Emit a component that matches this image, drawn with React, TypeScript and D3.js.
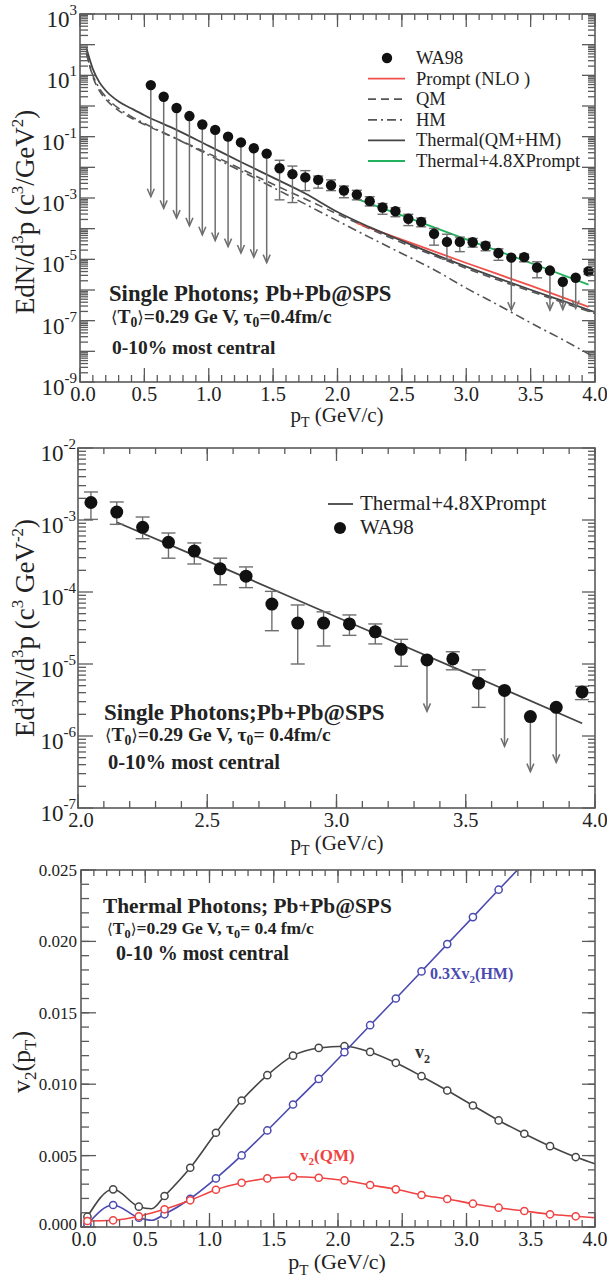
import React from 'react';
import * as d3 from 'd3';

const FONT = '"Liberation Serif", "Times New Roman", "DejaVu Serif", serif';
const AXIS = '#5a5a5a';
const BAR = '#6e6e6e';

// WA98 single photons, Pb+Pb 0-10% central
const wa98Pt = [0.55, 0.65, 0.75, 0.85, 0.95, 1.05, 1.15, 1.25, 1.35, 1.45, 1.55, 1.65, 1.75, 1.85, 1.95, 2.05, 2.15, 2.25, 2.35, 2.45, 2.55, 2.65, 2.75, 2.85, 2.95, 3.05, 3.15, 3.25, 3.35, 3.45, 3.55, 3.65, 3.75, 3.85, 3.95];
const wa98Val = [4.8, 2.0, 0.86, 0.47, 0.25, 0.166, 0.1, 0.065, 0.042, 0.028, 9.3e-3, 6.0e-3, 4.7e-3, 3.9e-3, 2.6e-3, 1.75e-3, 1.29e-3, 7.9e-4, 4.9e-4, 3.7e-4, 2.1e-4, 1.66e-4, 6.8e-5, 3.7e-5, 3.7e-5, 3.6e-5, 2.8e-5, 1.6e-5, 1.14e-5, 1.18e-5, 5.4e-6, 4.3e-6, 1.86e-6, 2.5e-6, 4.1e-6];
const wa98ErrHi = [null, null, null, null, null, null, null, null, null, null, 0.017, 0.011, 7.8e-3, 5.2e-3, 3.9e-3, 2.45e-3, 1.78e-3, 1.1e-3, 6.6e-4, 4.8e-4, 2.95e-4, 2.23e-4, 1.02e-4, 6.6e-5, 5.3e-5, 4.8e-5, 3.6e-5, 2.2e-5, null, 1.48e-5, 8.3e-6, null, null, null, 4.9e-6];
const wa98ErrLo = [null, null, null, null, null, null, null, null, null, null, 8.7e-4, 7.1e-4, 1.74e-3, 2.1e-3, 1.74e-3, 1.02e-3, 8.7e-4, 5.5e-4, 2.95e-4, 2.45e-4, 1.26e-4, 1.15e-4, 2.9e-5, 1.0e-5, 1.78e-5, 2.5e-5, 1.9e-5, 9.3e-6, null, 8.3e-6, 2.5e-6, null, null, null, 3.2e-6];
// upper limits: where the arrow ends in each panel
const limitEndTop = [1.1e-3, 4.6e-4, 2.2e-4, 1.23e-4, 6.3e-5, 4.1e-5, 2.6e-5, 1.6e-5, 1.17e-5, 7.8e-6, null, null, null, null, null, null, null, null, null, null, null, null, null, null, null, null, null, null, 2.2e-7, null, null, 2.2e-7, 2.3e-7, 2.5e-7, null];
const limitEndMid = [null, null, null, null, null, null, null, null, null, null, null, null, null, null, null, null, null, null, null, null, null, null, null, null, null, null, null, null, 2.2e-6, null, null, 7.2e-7, 3.2e-7, 4.3e-7, null];

// theory spectra
const thPt = [0.05, 0.1, 0.15, 0.2, 0.3, 0.4, 0.5, 0.75, 1.0, 1.25, 1.5, 1.75, 2.0, 2.25, 2.5, 2.75, 3.0, 3.25, 3.5, 3.75, 4.0];
const thermal = [76, 16, 6.0, 3.2, 1.4, 0.83, 0.5, 0.166, 0.05, 0.015, 4.6e-3, 1.4e-3, 3.5e-4, 1.12e-4, 4.0e-5, 1.48e-5, 5.8e-6, 2.4e-6, 1.02e-6, 4.4e-7, 1.9e-7];
const qmRate = [56, 8.9, 3.2, 1.66, 0.71, 0.4, 0.25, 0.085, 0.028, 8.9e-3, 2.8e-3, 9.3e-4, 3.0e-4, 1.0e-4, 3.5e-5, 1.32e-5, 5.1e-6, 2.1e-6, 9.1e-7, 3.9e-7, 1.7e-7];
const hmRate = [50, 10, 3.8, 2.0, 0.83, 0.45, 0.27, 0.085, 0.025, 7.6e-3, 2.2e-3, 6.3e-4, 1.8e-4, 5.2e-5, 1.55e-5, 4.6e-6, 1.15e-6, 3.2e-7, 8.5e-8, 2.4e-8, 6.3e-9];
const promptPt = [2.15, 2.5, 3.0, 3.5, 3.95];
const promptNLO = [1.5e-4, 4.4e-5, 7.6e-6, 1.38e-6, 2.8e-7];
const thermalPlusPrompt = [9.3e-4, 2.7e-4, 4.5e-5, 7.6e-6, 1.5e-6];

// elliptic flow
const v2Pt = [0.05, 0.25, 0.45, 0.55, 0.65, 0.85, 1.05, 1.25, 1.45, 1.65, 1.85, 2.05, 2.25, 2.45, 2.65, 2.85, 3.05, 3.25, 3.45, 3.65, 3.85, 4.0];
const v2Total = [0.00072, 0.00264, 0.00142, 0.00128, 0.00217, 0.00415, 0.0066, 0.00886, 0.01063, 0.0120, 0.01254, 0.01266, 0.01226, 0.0115, 0.01056, 0.00956, 0.00851, 0.00746, 0.00653, 0.00566, 0.0049, 0.00443];
const v2QM = [0.00042, 0.00047, 0.00075, 0.00098, 0.00124, 0.00187, 0.00261, 0.0031, 0.0034, 0.00352, 0.00345, 0.00326, 0.00294, 0.00264, 0.00224, 0.00196, 0.00163, 0.00135, 0.00112, 0.00089, 0.00075, 0.00065];
const v2HMPt = [0.05, 0.25, 0.45, 0.55, 0.65, 0.85, 1.05, 1.25, 1.45, 1.65, 1.85, 2.05, 2.25, 2.45, 2.65, 2.85, 3.05, 3.25, 3.45];
const v2HM03 = [0.00019, 0.00154, 0.00065, 0.00047, 0.00089, 0.00198, 0.0034, 0.00501, 0.00676, 0.00858, 0.01037, 0.01224, 0.01413, 0.016, 0.0179, 0.01981, 0.0217, 0.02362, 0.0255];
const v2MarkPt = [0.05, 0.25, 0.45, 0.65, 0.85, 1.05, 1.25, 1.45, 1.65, 1.85, 2.05, 2.25, 2.45, 2.65, 2.85, 3.05, 3.25, 3.45, 3.65, 3.85];

const P1 = { left: 80, right: 595, top: 14, bottom: 382 };
const P2 = { left: 78, right: 595, top: 448, bottom: 808 };
const P3 = { left: 81, right: 595, top: 870, bottom: 1227 };

type Panel = typeof P1;

const logTicks = (lo: number, hi: number) => {
  const major = d3.range(lo, hi + 1).map((e) => Math.pow(10, e));
  const minor: number[] = [];
  for (let e = lo; e < hi; e++) for (let m = 2; m <= 9; m++) minor.push(m * Math.pow(10, e));
  return { major, minor };
};

const Frame = ({ p }: { p: Panel }) => (
  <rect x={p.left} y={p.top} width={p.right - p.left} height={p.bottom - p.top} fill="none" stroke={AXIS} strokeWidth={1.6} />
);

const XTicks = ({ x, p, major, minor }: any) => (
  <g stroke={AXIS} strokeWidth={1.3}>
    {minor.map((v: number) => (
      <g key={'m' + v}>
        <line x1={x(v)} x2={x(v)} y1={p.bottom} y2={p.bottom - 7} />
        <line x1={x(v)} x2={x(v)} y1={p.top} y2={p.top + 6} />
      </g>
    ))}
    {major.map((v: number) => (
      <g key={'M' + v}>
        <line x1={x(v)} x2={x(v)} y1={p.bottom} y2={p.bottom - 14} />
        <line x1={x(v)} x2={x(v)} y1={p.top} y2={p.top + 13} />
      </g>
    ))}
  </g>
);

const YTicks = ({ y, p, major, minor }: any) => (
  <g stroke={AXIS} strokeWidth={1.3}>
    {minor.map((v: number) => (
      <g key={'m' + v}>
        <line x1={p.left} x2={p.left + 8} y1={y(v)} y2={y(v)} />
        <line x1={p.right} x2={p.right - 7} y1={y(v)} y2={y(v)} />
      </g>
    ))}
    {major.map((v: number) => (
      <g key={'M' + v}>
        <line x1={p.left} x2={p.left + 15} y1={y(v)} y2={y(v)} />
        <line x1={p.right} x2={p.right - 13} y1={y(v)} y2={y(v)} />
      </g>
    ))}
  </g>
);

const XLabels = ({ x, p, values, dy, size }: any) => (
  <g fontSize={size} textAnchor="middle" fill="#222">
    {values.map((v: number) => (
      <text key={v} x={x(v) + (v === values[0] ? 3 : 0)} y={p.bottom + dy}>{d3.format('.1f')(v)}</text>
    ))}
  </g>
);

const PowLabels = ({ y, values, xEnd, size }: any) => (
  <g fontSize={size} textAnchor="end" fill="#222">
    {values.map((v: number) => {
      const e = Math.round(Math.log10(v));
      return (
        <text key={v} x={xEnd} y={y(v) + 13}>
          10<tspan dy={-12} fontSize={15}>{e}</tspan>
        </text>
      );
    })}
  </g>
);

const Arrow = ({ x, y0, y1 }: { x: number; y0: number; y1: number }) => (
  <g stroke={BAR} strokeWidth={1.5} fill="none">
    <line x1={x} x2={x} y1={y0} y2={y1} />
    <path d={`M${x - 3.5},${y1 - 8} L${x},${y1} L${x + 3.5},${y1 - 8}`} />
  </g>
);

const DataPoints = ({ x, y, idx, limitEnd, r, cap }: any) => (
  <g>
    {idx.map((i: number) => {
      const cx = x(wa98Pt[i]);
      const cy = y(wa98Val[i]);
      if (limitEnd[i] != null) return <Arrow key={i} x={cx} y0={cy} y1={y(limitEnd[i])} />;
      if (wa98ErrHi[i] == null) return null;
      const yh = y(wa98ErrHi[i]);
      const yl = y(wa98ErrLo[i]);
      return (
        <g key={i} stroke={BAR} strokeWidth={1.4}>
          <line x1={cx} x2={cx} y1={yh} y2={yl} />
          <line x1={cx - cap} x2={cx + cap} y1={yh} y2={yh} />
          <line x1={cx - cap} x2={cx + cap} y1={yl} y2={yl} />
        </g>
      );
    })}
    {idx.map((i: number) => (
      <circle key={'c' + i} cx={x(wa98Pt[i])} cy={y(wa98Val[i])} r={r} fill="#111" />
    ))}
  </g>
);

const T0Line = ({ x, y, size, tail }: any) => (
  <text x={x} y={y} fontSize={size} fontWeight="bold" fill="#222">
    <tspan fontFamily='"DejaVu Serif", serif' fontWeight="normal" fontSize={size * 0.85}>⟨</tspan>T
    <tspan dy={4} fontSize={size * 0.7}>0</tspan>
    <tspan dy={-4} fontFamily='"DejaVu Serif", serif' fontWeight="normal" fontSize={size * 0.85}>⟩</tspan>=0.29 Ge V,  τ
    <tspan dy={4} fontSize={size * 0.7}>0</tspan>
    <tspan dy={-4}>{tail}</tspan>
  </text>
);

export default function App() {
  const x1 = d3.scaleLinear().domain([0, 4]).range([P1.left, P1.right]);
  const y1 = d3.scaleLog().domain([1e-9, 1e3]).range([P1.bottom, P1.top]);
  const x2 = d3.scaleLinear().domain([2, 4]).range([P2.left, P2.right]);
  const y2 = d3.scaleLog().domain([1e-7, 1e-2]).range([P2.bottom, P2.top]);
  const x3 = d3.scaleLinear().domain([0, 4]).range([P3.left, P3.right]);
  const y3 = d3.scaleLinear().domain([0, 0.025]).range([P3.bottom, P3.top]);

  const lt1 = logTicks(-9, 3);
  const lt2 = logTicks(-7, -2);

  const line1 = (xs: number[], ys: number[]) =>
    d3.line<number>().x((_, i) => x1(xs[i])).y((d) => y1(d)).curve(d3.curveMonotoneX)(ys) || '';
  const line2 = (xs: number[], ys: number[]) =>
    d3.line<number>().x((_, i) => x2(xs[i])).y((d) => y2(d)).curve(d3.curveMonotoneX)(ys) || '';
  const line3 = (xs: number[], ys: number[]) =>
    d3.line<number>().x((_, i) => x3(xs[i])).y((d) => y3(d)).curve(d3.curveMonotoneX)(ys) || '';

  const allIdx = wa98Pt.map((_, i) => i);
  const midIdx = allIdx.filter((i) => wa98Pt[i] >= 2.0);

  const v2Series = [
    { xs: v2Pt, ys: v2Total, color: '#454545' },
    { xs: v2HMPt, ys: v2HM03, color: '#4a4ab0' },
    { xs: v2Pt, ys: v2QM, color: '#f04242' },
  ];

  const legendTop = [
    { label: 'WA98', kind: 'dot' },
    { label: 'Prompt (NLO )', kind: 'line', color: '#f0504a', dash: '' },
    { label: 'QM', kind: 'line', color: '#555', dash: '8,5' },
    { label: 'HM', kind: 'line', color: '#555', dash: '9,4,2,4' },
    { label: 'Thermal(QM+HM)', kind: 'line', color: '#444', dash: '' },
    { label: 'Thermal+4.8XPrompt', kind: 'line', color: '#20b25c', dash: '' },
  ];

  return (
    <svg width={607} height={1281} style={{ position: 'absolute', left: 0, top: 0, background: '#fff' }} fontFamily={FONT}>
      <defs>
        {[P1, P2, P3].map((p, k) => (
          <clipPath id={'clip' + k} key={k}>
            <rect x={p.left} y={p.top} width={p.right - p.left} height={p.bottom - p.top} />
          </clipPath>
        ))}
      </defs>

      {/* ---------- panel 1 ---------- */}
      <g clipPath="url(#clip0)" fill="none" strokeWidth={1.8}>
        <path d={line1(thPt, hmRate)} stroke="#555" strokeDasharray="9,4,2,4" strokeWidth={1.6} />
        <path d={line1(thPt, qmRate)} stroke="#555" strokeDasharray="8,5" strokeWidth={1.6} />
        <path d={line1(promptPt, promptNLO)} stroke="#f0504a" />
        <path d={line1(thPt, thermal)} stroke="#444" />
        <path d={line1(promptPt, thermalPlusPrompt)} stroke="#20b25c" />
      </g>
      <DataPoints x={x1} y={y1} idx={allIdx} limitEnd={limitEndTop} r={5.2} cap={5} />
      <XTicks x={x1} p={P1} major={x1.ticks(8)} minor={x1.ticks(40)} />
      <YTicks y={y1} p={P1} major={lt1.major} minor={lt1.minor} />
      <Frame p={P1} />
      <XLabels x={x1} p={P1} values={x1.ticks(8)} dy={19} size={20.5} />
      <PowLabels y={y1} values={lt1.major.filter((_, i) => i % 2 === 0)} xEnd={77} size={23} />
      <text x={337} y={422} fontSize={21} textAnchor="middle" fill="#222">
        p<tspan dy={5} fontSize={14}>T</tspan><tspan dy={-5}> (GeV/c)</tspan>
      </text>
      <text transform="translate(34,212) rotate(-90)" fontSize={27} textAnchor="middle" fill="#222">
        EdN/d<tspan dy={-11} fontSize={17}>3</tspan><tspan dy={11}>p (c</tspan>
        <tspan dy={-11} fontSize={17}>3</tspan><tspan dy={11}>/GeV</tspan>
        <tspan dy={-11} fontSize={17}>2</tspan><tspan dy={11}>)</tspan>
      </text>
      <g fontSize={18.5} fill="#222">
        {legendTop.map((d, i) => {
          const yy = 58 + i * 20.6;
          return (
            <g key={d.label}>
              {d.kind === 'dot' ? (
                <circle cx={387} cy={yy} r={5.2} fill="#111" />
              ) : (
                <line x1={368} x2={405} y1={yy} y2={yy} stroke={d.color} strokeWidth={1.8} strokeDasharray={d.dash} />
              )}
              <text x={416} y={yy + 6}>{d.label}</text>
            </g>
          );
        })}
      </g>
      <text x={109} y={301} fontSize={22.7} fontWeight="bold" fill="#222">Single Photons; Pb+Pb@SPS</text>
      <T0Line x={111} y={323} size={19.5} tail="=0.4fm/c" />
      <text x={112} y={354} fontSize={19.5} fontWeight="bold" fill="#222">0-10% most central</text>

      {/* ---------- panel 2 ---------- */}
      <g clipPath="url(#clip1)" fill="none">
        <path d={line2(promptPt, thermalPlusPrompt)} stroke="#444" strokeWidth={1.8} />
      </g>
      <DataPoints x={x2} y={y2} idx={midIdx} limitEnd={limitEndMid} r={6.5} cap={7} />
      <XTicks x={x2} p={P2} major={x2.ticks(4)} minor={x2.ticks(20)} />
      <YTicks y={y2} p={P2} major={lt2.major} minor={lt2.minor} />
      <Frame p={P2} />
      <XLabels x={x2} p={P2} values={x2.ticks(4)} dy={19} size={20.5} />
      <PowLabels y={y2} values={lt2.major} xEnd={76} size={23} />
      <text x={337} y={850} fontSize={21} textAnchor="middle" fill="#222">
        p<tspan dy={5} fontSize={14}>T</tspan><tspan dy={-5}> (GeV/c)</tspan>
      </text>
      <text transform="translate(34,628) rotate(-90)" fontSize={27} textAnchor="middle" fill="#222">
        Ed<tspan dy={-11} fontSize={17}>3</tspan><tspan dy={11}>N/d</tspan>
        <tspan dy={-11} fontSize={17}>3</tspan><tspan dy={11}>p (c</tspan>
        <tspan dy={-11} fontSize={17}>3</tspan><tspan dy={11}> GeV</tspan>
        <tspan dy={-11} fontSize={17}>-2</tspan><tspan dy={11}>)</tspan>
      </text>
      <g fontSize={21} fill="#222">
        <line x1={328} x2={353} y1={504} y2={504} stroke="#444" strokeWidth={1.8} />
        <text x={360} y={510}>Thermal+4.8XPrompt</text>
        <circle cx={340} cy={528} r={6} fill="#111" />
        <text x={360} y={534}>WA98</text>
      </g>
      <text x={104} y={720} fontSize={23} fontWeight="bold" fill="#222">Single Photons;Pb+Pb@SPS</text>
      <T0Line x={105} y={741} size={19.5} tail="= 0.4fm/c" />
      <text x={108} y={769} fontSize={20.5} fontWeight="bold" fill="#222">0-10% most central</text>

      {/* ---------- panel 3 ---------- */}
      <g clipPath="url(#clip2)">
        {v2Series.map((s) => (
          <g key={s.color}>
            <path d={line3(s.xs, s.ys)} fill="none" stroke={s.color} strokeWidth={1.6} />
            {s.xs.map((px, i) =>
              v2MarkPt.includes(px) ? (
                <circle key={px} cx={x3(px)} cy={y3(s.ys[i])} r={3.6} fill="#fff" stroke={s.color} strokeWidth={1.5} />
              ) : null
            )}
          </g>
        ))}
      </g>
      <XTicks x={x3} p={P3} major={x3.ticks(8)} minor={x3.ticks(40)} />
      <YTicks y={y3} p={P3} major={y3.ticks(5)} minor={d3.range(0, 0.02501, 0.001)} />
      <Frame p={P3} />
      <XLabels x={x3} p={P3} values={x3.ticks(8)} dy={19} size={20} />
      <g fontSize={17} textAnchor="end" fill="#222">
        {y3.ticks(5).map((v) => (
          <text key={v} x={77} y={y3(v) + (v === 0 ? 3 : 6)}>{d3.format('.3f')(v)}</text>
        ))}
      </g>
      <text x={337} y={1269} fontSize={22} textAnchor="middle" fill="#222">
        p<tspan dy={6} fontSize={15}>T</tspan><tspan dy={-6}>  (GeV/c)</tspan>
      </text>
      <text transform="translate(30,1062) rotate(-90)" fontSize={26} textAnchor="middle" fill="#222">
        v<tspan dy={6} fontSize={17}>2</tspan><tspan dy={-6}>(p</tspan>
        <tspan dy={6} fontSize={17}>T</tspan><tspan dy={-6}>)</tspan>
      </text>
      <text x={103} y={913} fontSize={21.3} fontWeight="bold" fill="#222">Thermal Photons; Pb+Pb@SPS</text>
      <T0Line x={107} y={934} size={17.5} tail="= 0.4 fm/c" />
      <text x={116} y={960} fontSize={20} fontWeight="bold" fill="#222">0-10 % most central</text>
      <text x={430} y={979} fontSize={16} fontWeight="bold" fill="#4a4ab0">
        0.3Xv<tspan dy={4} fontSize={11}>2</tspan><tspan dy={-4}>(HM)</tspan>
      </text>
      <text x={415} y={1058} fontSize={18} fontWeight="bold" fill="#333">
        v<tspan dy={5} fontSize={12}>2</tspan>
      </text>
      <text x={300} y={1161} fontSize={17} fontWeight="bold" fill="#f04242">
        v<tspan dy={4} fontSize={11}>2</tspan><tspan dy={-4}>(QM)</tspan>
      </text>
    </svg>
  );
}
